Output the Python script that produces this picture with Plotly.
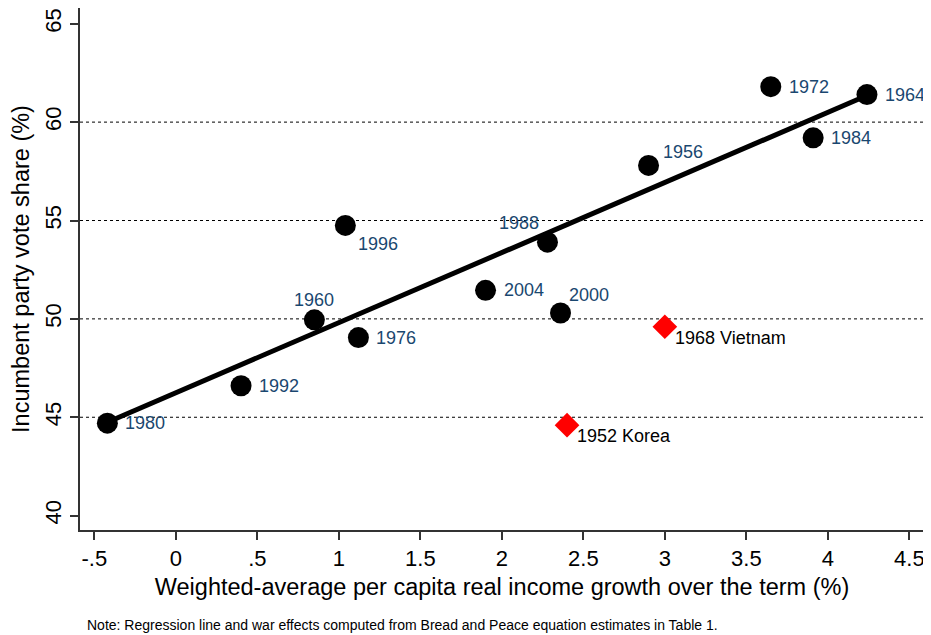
import plotly.graph_objects as go

# ---- data ----
years = ["1980", "1992", "1960", "1996", "1976", "2004", "1988", "2000",
         "1956", "1972", "1984", "1964"]
growth = [-0.42, 0.40, 0.85, 1.04, 1.12, 1.90, 2.28, 2.36, 2.90, 3.65, 3.91, 4.24]
vote = [44.7, 46.6, 49.95, 54.75, 49.05, 51.45, 53.9, 50.3, 57.8, 61.8, 59.2, 61.4]

war_labels = ["1952 Korea", "1968 Vietnam"]
war_growth = [2.40, 3.00]
war_vote = [44.6, 49.6]

fit_x = [-0.42, 4.24]
fit_y = [44.75, 61.35]

x_ticks = [-0.5, 0, 0.5, 1, 1.5, 2, 2.5, 3, 3.5, 4, 4.5]
x_ticktext = ["-.5", "0", ".5", "1", "1.5", "2", "2.5", "3", "3.5", "4", "4.5"]
y_ticks = [40, 45, 50, 55, 60, 65]
grid_vals = [45, 50, 55, 60]

# label placement (pixel offsets, style only)
label_pos = {
    "1980": ("left", 16, 0), "1992": ("left", 16, 0), "1960": ("center", 0, 20),
    "1996": ("center", 33, -19), "1976": ("left", 16, 0), "2004": ("left", 16, 0),
    "1988": ("center", -28, 19), "2000": ("center", 28, 18), "1956": ("center", 34, 13),
    "1972": ("left", 16, 0), "1984": ("left", 16, 0), "1964": ("left", 16, 0),
}

FONT = "Liberation Sans, Arial, sans-serif"
NAVY = "#1a476f"

fig = go.Figure()
fig.add_trace(go.Scatter(x=fit_x, y=fit_y, mode="lines",
                         line=dict(color="black", width=5), hoverinfo="skip"))
fig.add_trace(go.Scatter(x=growth, y=vote, mode="markers",
                         marker=dict(color="black", size=21, symbol="circle"),
                         text=years))
fig.add_trace(go.Scatter(x=war_growth, y=war_vote, mode="markers",
                         marker=dict(color="#ff0000", size=19, symbol="diamond"),
                         text=war_labels))

for yr, gx, vy in zip(years, growth, vote):
    anchor, dx, dy = label_pos[yr]
    fig.add_annotation(x=gx, y=vy, text=yr, showarrow=False, xanchor=anchor,
                       yanchor="middle", xshift=dx, yshift=dy,
                       font=dict(family=FONT, size=18, color=NAVY))
for lab, gx, vy in zip(war_labels, war_growth, war_vote):
    fig.add_annotation(x=gx, y=vy, text=lab, showarrow=False, xanchor="left",
                       yanchor="middle", xshift=8, yshift=-11,
                       font=dict(family=FONT, size=18, color="black"))

for g in grid_vals:
    fig.add_shape(type="line", xref="paper", x0=0, x1=1, yref="y", y0=g, y1=g,
                  line=dict(color="black", width=1, dash="dot"), layer="below")

fig.add_annotation(xref="paper", yref="paper", x=0.006, y=-0.182, showarrow=False,
                   xanchor="left", yanchor="middle",
                   text="Note: Regression line and war effects computed from Bread and Peace equation estimates in Table 1.",
                   font=dict(family=FONT, size=14, color="black"))

fig.update_layout(
    width=923, height=627,
    margin=dict(l=72, r=7, t=0, b=105),
    paper_bgcolor="white", plot_bgcolor="white",
    showlegend=False,
    font=dict(family=FONT, color="black"),
    xaxis=dict(range=[-0.588, 4.59], tickvals=x_ticks, ticktext=x_ticktext,
               showgrid=False, zeroline=False, showline=True, linecolor="#333333",
               linewidth=1.5, ticks="outside", ticklen=8, tickcolor="#333333",
               tickwidth=1.5, tickfont=dict(size=22, family=FONT),
               title=dict(text="Weighted-average per capita real income growth over the term (%)",
                          font=dict(size=23.5, family=FONT), standoff=8)),
    yaxis=dict(range=[39.27, 65.8], tickvals=y_ticks, tickangle=-90,
               showgrid=False, zeroline=False, showline=True, linecolor="#333333",
               linewidth=1.5, ticks="outside", ticklen=8, tickcolor="#333333",
               tickwidth=1.5, tickfont=dict(size=22, family=FONT),
               title=dict(text="Incumbent party vote share (%)",
                          font=dict(size=23.5, family=FONT), standoff=6)),
)

fig.write_html("out.html")
